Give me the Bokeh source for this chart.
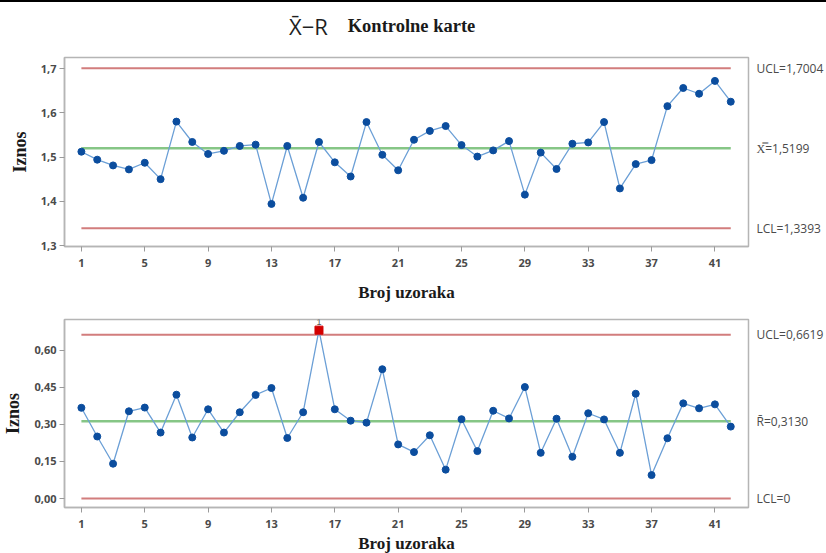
from bokeh.plotting import figure
from bokeh.layouts import column
from bokeh.models import Range1d, FixedTicker, CustomJSTickFormatter, Label, LinearAxis, ColumnDataSource
from bokeh.embed import file_html
from bokeh.resources import INLINE

# ---- data ----
samples = list(range(1, 43))
xbar = [1.512, 1.494, 1.481, 1.472, 1.487, 1.450, 1.580, 1.534, 1.507, 1.514,
        1.525, 1.528, 1.394, 1.525, 1.408, 1.534, 1.488, 1.456, 1.579, 1.505,
        1.470, 1.539, 1.559, 1.570, 1.527, 1.501, 1.515, 1.536, 1.415, 1.510,
        1.473, 1.530, 1.533, 1.579, 1.429, 1.484, 1.493, 1.615, 1.656, 1.643,
        1.672, 1.625]
rng = [0.367, 0.251, 0.141, 0.353, 0.368, 0.267, 0.420, 0.247, 0.361, 0.267,
       0.349, 0.419, 0.447, 0.245, 0.349, 0.681, 0.361, 0.315, 0.307, 0.523,
       0.219, 0.188, 0.256, 0.117, 0.321, 0.192, 0.355, 0.324, 0.451, 0.185,
       0.323, 0.169, 0.345, 0.320, 0.185, 0.424, 0.095, 0.244, 0.385, 0.365,
       0.381, 0.291]
x_ucl, x_cl, x_lcl = 1.7004, 1.5199, 1.3393
r_ucl, r_cl, r_lcl = 0.6619, 0.3130, 0.0
x_ticks = [1, 5, 9, 13, 17, 21, 25, 29, 33, 37, 41]
xbar_yticks = [1.3, 1.4, 1.5, 1.6, 1.7]
r_yticks = [0.0, 0.15, 0.30, 0.45, 0.60]
out_idx = [15]  # sample 16 out of control in R chart
x_labels = ["UCL=1,7004", "X\u033F=1,5199", "LCL=1,3393"]
r_labels = ["UCL=0,6619", "R\u0304=0,3130", "LCL=0"]
title_sym = "X\u0304\u2212R"
title_txt = "Kontrolne karte"

RED = "#d27d7d"
GREEN = "#86c686"
LINE = "#6b9fd6"
DOT = "#0b4d9e"
TICK_C = "#4a4a4a"
SERIF = "Liberation Serif"
SANS = "Open Sans"

XR = (-0.067, 43.12)


def style(p, yticks, decimals, xlabel):
    p.xaxis.ticker = FixedTicker(ticks=x_ticks)
    p.yaxis.ticker = FixedTicker(ticks=yticks)
    p.yaxis.formatter = CustomJSTickFormatter(
        code=f"return tick.toFixed({decimals}).replace('.', ',');")
    for ax in (p.xaxis, p.yaxis):
        ax.axis_line_color = "#b5b5b5"
        ax.axis_line_width = 1.5
        ax.major_tick_line_color = "#9a9a9a"
        ax.major_tick_out = 5
        ax.major_tick_in = 0
        ax.minor_tick_line_color = None
        ax.major_label_text_font = SANS
        ax.major_label_text_font_size = "11px"
        ax.major_label_text_font_style = "bold"
        ax.major_label_text_color = TICK_C
        ax.axis_label_text_font = SERIF
        ax.axis_label_text_font_style = "bold"
        ax.axis_label_text_color = "#1a1a1a"
    p.yaxis.axis_label = "Iznos"
    p.yaxis.axis_label_text_font_size = "18px"
    p.yaxis.axis_label_standoff = 8
    p.xaxis.axis_label = xlabel
    p.xaxis.axis_label_text_font_size = "17px"
    p.yaxis.major_label_standoff = 3
    p.grid.grid_line_color = None
    p.outline_line_color = "#b5b5b5"
    p.outline_line_width = 1.5
    p.background_fill_color = "white"
    p.border_fill_color = "white"


def right_labels(p, vals, labs):
    ax = LinearAxis(
        ticker=FixedTicker(ticks=vals),
        formatter=CustomJSTickFormatter(
            args=dict(vals=vals, labs=labs),
            code="for (let i = 0; i < vals.length; i++) { if (Math.abs(tick - vals[i]) < 1e-6) return labs[i]; } return '';"),
        axis_line_color=None, major_tick_line_color=None, minor_tick_line_color=None,
        major_label_text_font=SANS, major_label_text_font_size="12px",
        major_label_text_color="#4a4a4a", major_label_standoff=2)
    p.add_layout(ax, "right")


# ---------- title strip ----------
pt = figure(width=826, height=38, output_backend="svg", toolbar_location=None,
            x_range=Range1d(0, 826), y_range=Range1d(0, 38),
            min_border=0, min_border_left=0, min_border_right=0, min_border_top=0, min_border_bottom=0)
pt.axis.visible = False
pt.grid.grid_line_color = None
pt.outline_line_color = None
pt.add_layout(Label(x=288, y=17, text=title_sym, text_baseline="middle", text_align="left",
                    x_offset=-14,
                    text_font=SANS, text_font_size="22px", text_color="#1f1f1f"))
pt.add_layout(Label(x=342, y=17, text=title_txt, text_baseline="middle",
                    text_font=SERIF, text_font_size="18.5px", text_font_style="bold", text_color="#1a1a1a"))

# ---------- top chart ----------
p1 = figure(width=826, height=262, output_backend="svg", toolbar_location=None,
            x_range=Range1d(*XR), y_range=Range1d(1.2978, 1.7249),
            min_border_left=62, min_border_right=76, min_border_top=15, min_border_bottom=58)
style(p1, xbar_yticks, 1, "Broj uzoraka")
p1.xaxis.major_label_standoff = 7
p1.xaxis.axis_label_standoff = 13
n = len(samples)
p1.segment(x0=[1, 1, 1], x1=[n, n, n], y0=[x_ucl, x_cl, x_lcl], y1=[x_ucl, x_cl, x_lcl],
           line_color=[RED, GREEN, RED], line_width=[2, 2.5, 2])
src1 = ColumnDataSource(dict(x=samples, y=xbar))
p1.line("x", "y", source=src1, line_color=LINE, line_width=1.3)
p1.scatter("x", "y", source=src1, size=7, color=DOT)
right_labels(p1, [x_ucl, x_cl, x_lcl], x_labels)

# ---------- bottom chart ----------
p2 = figure(width=826, height=251, output_backend="svg", toolbar_location=None,
            x_range=Range1d(*XR), y_range=Range1d(-0.036, 0.724),
            min_border_left=62, min_border_right=76, min_border_top=15, min_border_bottom=46)
style(p2, r_yticks, 2, "Broj uzoraka")
p2.xaxis.major_label_standoff = 7
p2.xaxis.axis_label_standoff = 3
p2.segment(x0=[1, 1, 1], x1=[n, n, n], y0=[r_ucl, r_cl, r_lcl], y1=[r_ucl, r_cl, r_lcl],
           line_color=[RED, GREEN, RED], line_width=[2, 2.5, 2])
src2 = ColumnDataSource(dict(x=samples, y=rng))
p2.line("x", "y", source=src2, line_color=LINE, line_width=1.3)
p2.scatter("x", "y", source=src2, size=7, color=DOT)
ox = [samples[i] for i in out_idx]
oy = [rng[i] for i in out_idx]
p2.scatter(ox, oy, marker="square", size=8, color="#d40000")
p2.text(ox, oy, text=["1"] * len(ox), y_offset=-5, text_align="center", text_baseline="bottom",
        text_font_size="9px", text_color="#555555")
right_labels(p2, [r_ucl, r_cl, r_lcl], r_labels)

layout = column(pt, p1, p2, spacing=0, styles={"border-top": "2px solid black", "padding-top": "2px"})
open("out.html", "w").write(file_html(layout, INLINE))
